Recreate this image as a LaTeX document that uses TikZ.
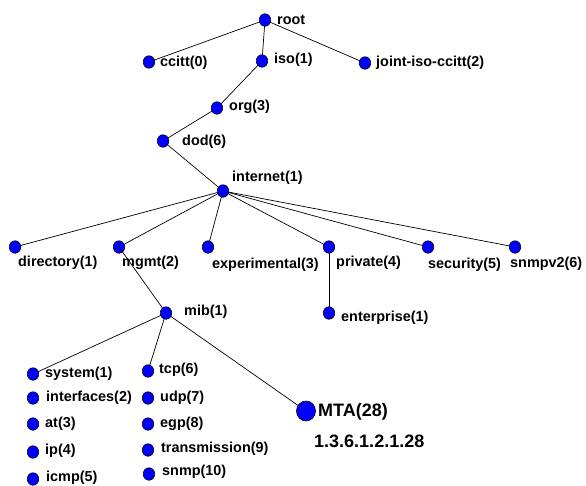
\documentclass[tikz,border=0pt]{standalone}
\usepackage{fontspec}
\setmainfont{Liberation Sans}
\usetikzlibrary{backgrounds,shapes.geometric}
\begin{document}
\begin{tikzpicture}[x=1pt,y=-1pt,
  dot/.style={ellipse,draw=black,fill=blue,line width=0.6pt,inner sep=0pt,minimum width=11.5pt,minimum height=12.5pt},
  bigdot/.style={ellipse,draw=black,fill=blue,line width=0.6pt,inner sep=0pt,minimum width=19pt,minimum height=20pt},
  lbl/.style={anchor=west,inner sep=0pt,font=\fontsize{14.4}{16}\selectfont\bfseries},
  biglbl/.style={anchor=west,inner sep=0pt,font=\fontsize{18}{20}\selectfont\bfseries},
  conn/.style={draw=black,line width=0.7pt}]
\useasboundingbox (0,0) rectangle (586,485);
% nodes
\node[dot] (root) at (265,20) {};
\node[lbl] (lroot) at (277,20) {root};
\node[dot] (ccitt) at (149,62) {};
\node[lbl] (lccitt) at (160,63) {ccitt(0)};
\node[dot] (iso) at (262,61) {};
\node[lbl] (liso) at (274,60) {iso(1)};
\node[dot] (joint) at (365,63) {};
\node[lbl] (ljoint) at (376,63) {joint-iso-ccitt(2)};
\node[dot] (org) at (217,108) {};
\node[lbl] (lorg) at (229,107) {org(3)};
\node[dot] (dod) at (163,141) {};
\node[lbl] (ldod) at (182,142) {dod(6)};
\node[dot] (internet) at (223,191) {};
\node[lbl] (linternet) at (232,178) {internet(1)};
\node[dot] (directory) at (15,247) {};
\node[lbl] (ldirectory) at (18,263) {directory(1)};
\node[dot] (mgmt) at (119,247) {};
\node[lbl] (lmgmt) at (122,263) {mgmt(2)};
\node[dot] (experimental) at (208,247) {};
\node[lbl] (lexperimental) at (212,265) {experimental(3)};
\node[dot] (private) at (329,247) {};
\node[lbl] (lprivate) at (336,263) {private(4)};
\node[dot] (security) at (428,247) {};
\node[lbl] (lsecurity) at (428,265) {security(5)};
\node[dot] (snmpv2) at (515,247) {};
\node[lbl] (lsnmpv2) at (510,264) {snmpv2(6)};
\node[dot] (mib) at (166,313) {};
\node[lbl] (lmib) at (184,312) {mib(1)};
\node[dot] (enterprise) at (329,313) {};
\node[lbl] (lenterprise) at (341,318) {enterprise(1)};
\node[dot] (system) at (33,374) {};
\node[lbl] (lsystem) at (45,374) {system(1)};
\node[dot] (interfaces) at (33,398) {};
\node[lbl] (linterfaces) at (46,398) {interfaces(2)};
\node[dot] (at) at (33,424) {};
\node[lbl] (lat) at (45,424) {at(3)};
\node[dot] (ip) at (33,452) {};
\node[lbl] (lip) at (45,451) {ip(4)};
\node[dot] (icmp) at (33,479) {};
\node[lbl] (licmp) at (46,478) {icmp(5)};
\node[dot] (tcp) at (148,371) {};
\node[lbl] (ltcp) at (159,370) {tcp(6)};
\node[dot] (udp) at (148,398) {};
\node[lbl] (ludp) at (160,398) {udp(7)};
\node[dot] (egp) at (148,424) {};
\node[lbl] (legp) at (160,424) {egp(8)};
\node[dot] (transmission) at (148,450) {};
\node[lbl] (ltransmission) at (161,449) {transmission(9)};
\node[dot] (snmp) at (149,474) {};
\node[lbl] (lsnmp) at (162,472) {snmp(10)};
\node[bigdot] (mta) at (306,411) {};
\node[biglbl] (lmta) at (318,412) {MTA(28)};
\node[biglbl] (loid) at (314,441) {1.3.6.1.2.1.28};
% connectors
\begin{scope}[on background layer]
\draw[conn] (root.center) -- (ccitt.center);
\draw[conn] (root.center) -- (iso.center);
\draw[conn] (root.center) -- (joint.center);
\draw[conn] (iso.center) -- (org.center);
\draw[conn] (org.center) -- (dod.center);
\draw[conn] (dod.center) -- (internet.center);
\foreach \c in {directory,mgmt,experimental,private,security,snmpv2}
  \draw[conn] (internet.center) -- (\c.center);
\draw[conn] (private.center) -- (enterprise.center);
\draw[conn] (mib.center) -- (system.center);
\draw[conn] (mib.center) -- (tcp.center);
\draw[conn] (mib.center) -- (mta.center);
\end{scope}
\draw[conn] (mgmt.center) -- (mib);
\end{tikzpicture}
\end{document}
